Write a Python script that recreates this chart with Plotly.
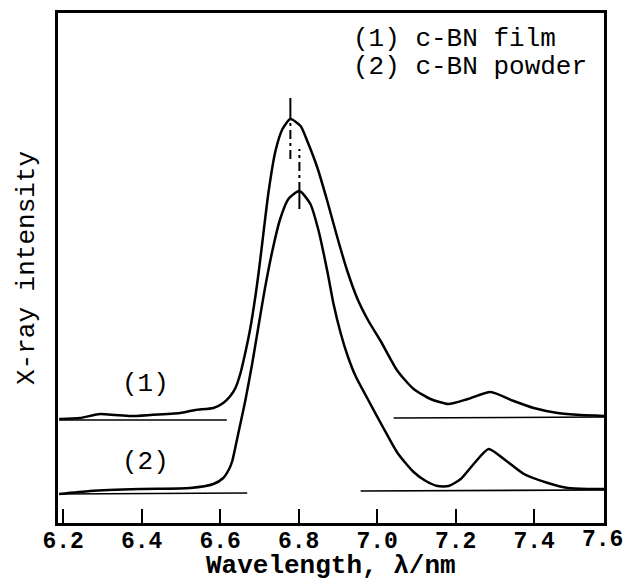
import plotly.graph_objects as go

# Curve (1): c-BN film
film_x = [6.190, 6.243, 6.294, 6.333, 6.371, 6.422, 6.498, 6.537, 6.583, 6.608, 6.626, 6.639,
          6.652, 6.664, 6.677, 6.690, 6.698, 6.708, 6.723, 6.741, 6.759, 6.779, 6.805,
          6.822, 6.848, 6.873, 6.899, 6.924, 6.950, 6.978, 7.009, 7.052, 7.093, 7.136, 7.182,
          7.231, 7.289, 7.348, 7.399, 7.460, 7.519, 7.585]
film_y = [104, 105, 109, 108, 107, 108, 110, 113, 115, 120, 127, 135,
          150, 170, 195, 227, 250, 282, 330, 372, 394, 404, 397,
          382, 355, 322, 285, 252, 224, 202, 182, 152, 134, 124, 119,
          124, 131, 122, 115, 110, 108, 107]

# Curve (2): c-BN powder
powder_x = [6.190, 6.269, 6.396, 6.524, 6.583, 6.608, 6.623, 6.631, 6.646, 6.664, 6.682, 6.697,
            6.713, 6.733, 6.753, 6.774, 6.802, 6.830, 6.851, 6.873, 6.889, 6.907, 6.925, 6.945,
            6.976, 7.016, 7.052, 7.093, 7.124, 7.154, 7.182, 7.213, 7.246, 7.284, 7.323, 7.374,
            7.435, 7.486, 7.537, 7.585]
powder_y = [29, 32, 34, 35, 39, 45, 54, 62, 89, 122, 160, 195,
            232, 272, 304, 324, 332, 319, 292, 252, 219, 190, 167, 147,
            124, 95, 70, 51, 42, 37, 37, 44, 59, 74, 64, 49,
            40, 35, 34, 34]

# Background lines (left and right segments) for each curve
base1_left_x, base1_left_y = [6.190, 6.617], [103, 103]
base1_right_x, base1_right_y = [7.042, 7.585], [105, 106]
base2_left_x, base2_left_y = [6.190, 6.669], [29, 30]
base2_right_x, base2_right_y = [6.958, 7.585], [32, 33]

# Peak position markers
peak1_x = 6.779
peak1_solid_y = [404, 425]
peak1_dash_y = [364, 404]
peak2_x = 6.802
peak2_dash_y = [332, 374]
peak2_solid_y = [314, 332]

tick_vals = [6.2, 6.4, 6.6, 6.8, 7.0, 7.2, 7.4, 7.6]
tick_text = ["6.2", "6.4", "6.6", "6.8", "7.0", "7.2", "7.4", "7.6"]
x_range = [6.187, 7.578]

FONT = "Liberation Mono"
BLACK = "#000000"

fig = go.Figure()

def add_line(x, y, width, dash="solid"):
    fig.add_trace(go.Scatter(x=x, y=y, mode="lines",
                             line=dict(color=BLACK, width=width, dash=dash, shape="spline", smoothing=0.6),
                             showlegend=False, hoverinfo="skip"))

add_line(film_x, film_y, 2.5)
add_line(powder_x, powder_y, 2.5)
for bx, by in [(base1_left_x, base1_left_y), (base1_right_x, base1_right_y),
               (base2_left_x, base2_left_y), (base2_right_x, base2_right_y)]:
    add_line(bx, by, 1.6)

dd = "9px,4px,3px,4px"
add_line([peak1_x, peak1_x], peak1_solid_y, 2)
add_line([peak1_x, peak1_x], peak1_dash_y, 2, dd)
add_line([peak2_x, peak2_x], peak2_dash_y, 2, dd)
add_line([peak2_x, peak2_x], peak2_solid_y, 2)

tickfont = dict(family=FONT, size=23, color=BLACK, weight="bold")
annotations = [
    dict(x=6.409, y=139, text="(1)", showarrow=False, xanchor="center",
         font=dict(family=FONT, size=26, color=BLACK)),
    dict(x=6.409, y=61, text="(2)", showarrow=False, xanchor="center",
         font=dict(family=FONT, size=26, color=BLACK)),
    dict(x=6.933, y=484, text="(1) c-BN film", showarrow=False, xanchor="left",
         font=dict(family=FONT, size=26, color=BLACK)),
    dict(x=6.933, y=456, text="(2) c-BN powder", showarrow=False, xanchor="left",
         font=dict(family=FONT, size=26, color=BLACK)),
    # axis titles
    dict(x=0.5, xref="paper", y=0, yref="paper", yshift=-43, xanchor="center", yanchor="middle",
         text="Wavelength, λ/nm", showarrow=False,
         font=dict(family=FONT, size=26, color=BLACK, weight="bold")),
    dict(x=0, xref="paper", xshift=-31, y=0.5, yref="paper", textangle=-90,
         xanchor="center", yanchor="middle",
         text="X-ray intensity", showarrow=False,
         font=dict(family=FONT, size=26, color=BLACK)),
]
# the last tick label sits just past the right frame edge (nudged in so it stays visible)
for v, t in zip(tick_vals, tick_text):
    if v > x_range[1]:
        frac = (v - x_range[0]) / (x_range[1] - x_range[0])
        annotations.append(dict(x=frac, xref="paper", xshift=-10, y=0, yref="paper", yshift=-17,
                                xanchor="center", yanchor="middle",
                                text=t, showarrow=False, font=tickfont))

# page body adds an 8px offset; figure sized so it fits the 633x578 window
fig.update_layout(
    width=625, height=570,
    margin=dict(l=50, r=29, t=5, b=55),
    paper_bgcolor="white", plot_bgcolor="white",
    annotations=annotations,
    xaxis=dict(range=x_range, tickvals=tick_vals, ticktext=tick_text,
               ticks="inside", ticklen=14, tickwidth=2, tickcolor=BLACK,
               showline=True, linewidth=3, linecolor=BLACK, mirror=True,
               showgrid=False, zeroline=False, automargin=False,
               ticklabelstandoff=-6, tickfont=tickfont),
    yaxis=dict(range=[0, 510], showticklabels=False, ticks="",
               showline=True, linewidth=3, linecolor=BLACK, mirror=True,
               showgrid=False, zeroline=False, automargin=False),
)

fig.write_html("out.html")
